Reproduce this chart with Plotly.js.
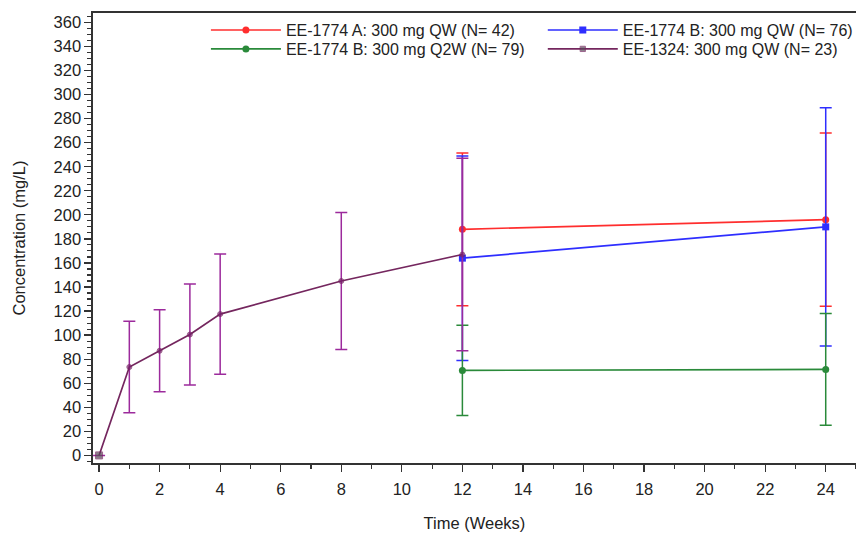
<!DOCTYPE html>
<html>
<head>
<meta charset="utf-8">
<script src="https://cdn.plot.ly/plotly-3.0.1.min.js"></script>
<style>
  html, body { margin: 0; padding: 0; background: #ffffff; }
  #chart { width: 856px; height: 534px; }
</style>
</head>
<body>
<div id="chart"></div>
<script>
// Mean serum concentration (mg/L) by study week, with SD error bars
const seriesNames = [
  'EE-1774 A: 300 mg QW (N= 42)',
  'EE-1774 B: 300 mg QW (N= 76)',
  'EE-1774 B: 300 mg Q2W (N= 79)',
  'EE-1324: 300 mg QW (N= 23)'
];

const weeks1774 = [12, 24];
const meanA_QW = [188, 196];
const sdA_QW = [63.5, 72];
const meanB_QW = [164, 190];
const sdB_QW = [85, 99];
const meanB_Q2W = [70.7, 71.5];
const sdB_Q2W = [37.6, 46.5];

const weeks1324 = [0, 1, 2, 3, 4, 8, 12];
const mean1324 = [0, 73.5, 87, 100.5, 117.5, 145, 167];
const sd1324 = [0, 38, 34, 42, 50, 57, 80];

const xTickVals = [0, 2, 4, 6, 8, 10, 12, 14, 16, 18, 20, 22, 24];
const yTickVals = [0, 20, 40, 60, 80, 100, 120, 140, 160, 180, 200, 220, 240, 260, 280, 300, 320, 340, 360];

const FONT = 'Liberation Sans, Arial, sans-serif';
const INK = '#222222';
const FS = 16.5;
const LEGEND_FS = 16;

function seriesTrace(name, x, y, sd, color, symbol, size, legendId, lineColor) {
  return {
    type: 'scatter',
    mode: 'lines+markers',
    name: name,
    legend: legendId,
    x: x,
    y: y,
    line: { color: lineColor || color, width: 1.7 },
    marker: { color: color, symbol: symbol, size: size },
    error_y: { type: 'data', array: sd, visible: true, color: color, thickness: 1.5, width: 6 },
    cliponaxis: false
  };
}

const purpleSymbols = weeks1324.map((w, i) => (i === 0 ? 'square' : 'circle'));
const purpleSizes = weeks1324.map((w, i) => (i === 0 ? 7 : 5));
const purpleColors = weeks1324.map((w, i) => (i === 0 ? '#5a4a5a' : '#7a1f6e'));

// Legend laid out as a 2 x 2 grid: one single-entry legend per cell
const traces = [
  seriesTrace(seriesNames[0], weeks1774, meanA_QW, sdA_QW, '#ff2e2e', 'circle', 7, 'legend'),
  seriesTrace(seriesNames[1], weeks1774, meanB_QW, sdB_QW, '#2e2eff', 'square', 7, 'legend2'),
  seriesTrace(seriesNames[2], weeks1774, meanB_Q2W, sdB_Q2W, '#2a8a3a', 'circle', 7, 'legend3'),
  Object.assign(
    seriesTrace(seriesNames[3], weeks1324, mean1324, sd1324, '#9c2a9c', 'circle', 5, 'legend4', '#74265e'),
    { marker: { color: purpleColors, symbol: purpleSymbols, size: purpleSizes } }
  )
];

function legendCell(xPos, yPos) {
  return {
    orientation: 'h',
    x: xPos,
    xanchor: 'left',
    y: yPos,
    yanchor: 'middle',
    bgcolor: 'rgba(255,255,255,0)',
    itemwidth: 70,
    font: { family: FONT, size: LEGEND_FS, color: INK }
  };
}

const COL1 = 0.148, COL2 = 0.5895;
const ROW1 = 0.962, ROW2 = 0.92;

const layout = {
  width: 856,
  height: 534,
  paper_bgcolor: '#ffffff',
  plot_bgcolor: '#ffffff',
  margin: { l: 93, r: 0, t: 13, b: 71, autoexpand: false },
  font: { family: FONT, color: INK, size: FS },
  showlegend: true,
  legend: legendCell(COL1, ROW1),
  legend2: legendCell(COL2, ROW1),
  legend3: legendCell(COL1, ROW2),
  legend4: legendCell(COL2, ROW2),
  xaxis: {
    range: [-0.2, 25],
    tickmode: 'array',
    tickvals: xTickVals,
    ticktext: xTickVals.map(String),
    ticks: 'outside',
    ticklen: 7,
    tickwidth: 1.3,
    tickcolor: '#333333',
    showline: true,
    linecolor: '#333333',
    linewidth: 1.6,
    mirror: true,
    showgrid: false,
    zeroline: false,
    minor: { dtick: 1, tick0: 0, ticks: 'outside', ticklen: 4, tickwidth: 1.1, tickcolor: '#333333', showgrid: false },
    tickfont: { family: FONT, size: FS, color: INK },
    ticklabelstandoff: 4,
    title: { text: 'Time (Weeks)', font: { family: FONT, size: FS, color: INK }, standoff: 20 }
  },
  yaxis: {
    range: [-6.3, 367.8],
    tickmode: 'array',
    tickvals: yTickVals,
    ticktext: yTickVals.map(String),
    ticks: 'outside',
    ticklen: 7,
    tickwidth: 1.3,
    tickcolor: '#333333',
    showline: true,
    linecolor: '#333333',
    linewidth: 1.6,
    mirror: false,
    showgrid: false,
    zeroline: false,
    minor: { dtick: 5, tick0: 0, ticks: 'outside', ticklen: 4, tickwidth: 1.1, tickcolor: '#333333', showgrid: false },
    tickfont: { family: FONT, size: FS, color: INK },
    title: { text: 'Concentration (mg/L)', font: { family: FONT, size: FS, color: INK }, standoff: 24 }
  }
};

Plotly.newPlot('chart', traces, layout, { displayModeBar: false, staticPlot: true });
</script>
</body>
</html>
